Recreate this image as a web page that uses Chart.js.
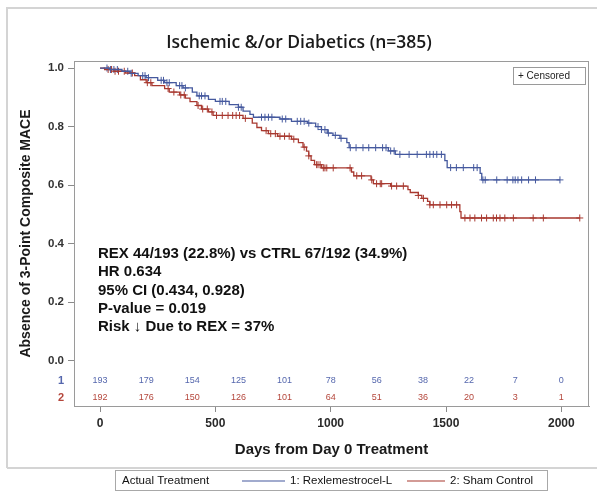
<!DOCTYPE html>
<html>
<head>
<meta charset="utf-8">
<script src="https://cdn.jsdelivr.net/npm/chart.js@4.4.1/dist/chart.umd.min.js"></script>
<style>
  html, body { margin: 0; padding: 0; background: #fff; }
  #wrap { width: 597px; height: 499px; position: relative; }
</style>
</head>
<body>
<div id="wrap"><canvas id="km"></canvas></div>
<script>
// ---- Data -------------------------------------------------------------
const chartTitle = 'Ischemic &/or Diabetics (n=385)';
const yAxisTitle = 'Absence of 3-Point Composite MACE';
const xAxisTitle = 'Days from Day 0 Treatment';
const legendTitle = 'Actual Treatment';
const groupNames = ['1: Rexlemestrocel-L', '2: Sham Control'];

// Kaplan-Meier steps: day of event and survival estimate after it
const rexDays = [0, 40, 95, 130, 165, 200, 250, 280, 330, 360, 400, 420, 470, 500, 560, 600, 620, 650, 665, 780, 830, 900, 935, 960, 985, 1010, 1040, 1070, 1080, 1250, 1280, 1495, 1505, 1648, 1655, 1994];
const rexSurv = [1.0, 0.995, 0.989, 0.982, 0.974, 0.967, 0.958, 0.950, 0.940, 0.932, 0.918, 0.905, 0.893, 0.886, 0.875, 0.866, 0.853, 0.842, 0.832, 0.826, 0.818, 0.812, 0.800, 0.790, 0.778, 0.770, 0.760, 0.745, 0.728, 0.717, 0.705, 0.684, 0.660, 0.640, 0.618, 0.618];
const rexCensorDays = [30, 45, 60, 75, 120, 135, 185, 195, 210, 265, 275, 290, 300, 345, 355, 370, 430, 440, 455, 520, 530, 545, 600, 612, 700, 715, 730, 745, 790, 805, 855, 870, 885, 905, 945, 960, 975, 990, 1020, 1045, 1085, 1110, 1140, 1165, 1195, 1225, 1240, 1260, 1275, 1300, 1340, 1375, 1415, 1430, 1445, 1460, 1480, 1520, 1545, 1575, 1620, 1635, 1660, 1670, 1720, 1765, 1790, 1800, 1812, 1828, 1858, 1888, 1994];

const shamDays = [0, 20, 60, 110, 150, 175, 200, 225, 280, 300, 345, 370, 390, 420, 440, 470, 490, 620, 660, 680, 700, 730, 770, 830, 860, 880, 895, 905, 915, 930, 960, 1090, 1100, 1175, 1185, 1260, 1335, 1345, 1380, 1395, 1420, 1430, 1560, 1565, 2080];
const shamSurv = [1.0, 0.995, 0.989, 0.983, 0.974, 0.960, 0.950, 0.940, 0.930, 0.918, 0.908, 0.897, 0.885, 0.872, 0.860, 0.850, 0.838, 0.828, 0.812, 0.797, 0.786, 0.776, 0.767, 0.757, 0.745, 0.730, 0.716, 0.700, 0.685, 0.670, 0.659, 0.645, 0.632, 0.618, 0.605, 0.597, 0.585, 0.575, 0.565, 0.555, 0.545, 0.533, 0.510, 0.488, 0.488];
const shamCensorDays = [35, 50, 65, 80, 105, 140, 205, 220, 295, 320, 350, 365, 425, 445, 465, 485, 505, 530, 555, 575, 590, 605, 630, 720, 740, 760, 780, 800, 820, 840, 885, 905, 939, 945, 954, 968, 975, 983, 1011, 1084, 1113, 1134, 1178, 1199, 1215, 1221, 1264, 1286, 1315, 1380, 1402, 1430, 1445, 1474, 1503, 1524, 1546, 1582, 1604, 1625, 1654, 1676, 1705, 1719, 1734, 1755, 1792, 1878, 1922, 2080];

// Number at risk
const riskDays = [0, 200, 400, 600, 800, 1000, 1200, 1400, 1600, 1800, 2000];
const rexAtRisk = [193, 179, 154, 125, 101, 78, 56, 38, 22, 7, 0];
const shamAtRisk = [192, 176, 150, 126, 101, 64, 51, 36, 20, 3, 1];

const xTicks = [0, 500, 1000, 1500, 2000];
const yTicks = [0, 0.2, 0.4, 0.6, 0.8, 1.0];

const statLines = [
  'REX 44/193 (22.8%) vs CTRL 67/192 (34.9%)',
  'HR 0.634',
  '95% CI (0.434, 0.928)',
  'P-value = 0.019',
  'Risk \u2193 Due to REX = 37%'
];

// ---- Styling ----------------------------------------------------------
const BLUE = '#45599e';
const RED = '#a8382f';
const BLUE_TXT = '#5567ad';
const RED_TXT = '#b4463b';
const SANS = '"Liberation Sans", Arial, sans-serif';

// survival level in force at a given day (for censor marks)
function survAt(days, surv, t) {
  let s = surv[0];
  for (let i = 0; i < days.length; i++) {
    if (days[i] <= t) s = surv[i]; else break;
  }
  return s;
}
const stepPoints = (days, surv) => days.map((d, i) => ({ x: d, y: surv[i] }));
const censorPoints = (cd, days, surv) => cd.map(t => ({ x: t, y: survAt(days, surv, t) }));

// ---- Decorations drawn around the plot ---------------------------------
const decor = {
  id: 'decor',
  beforeDraw(chart) {
    const ctx = chart.ctx;
    ctx.save();
    ctx.fillStyle = '#fff';
    ctx.fillRect(0, 0, chart.width, chart.height);
    // outer panel frame
    ctx.strokeStyle = '#d4d4d4';
    ctx.lineWidth = 2;
    ctx.beginPath();
    ctx.moveTo(7, 468); ctx.lineTo(7, 8); ctx.lineTo(597, 8);
    ctx.moveTo(7, 468); ctx.lineTo(597, 468);
    ctx.stroke();
    ctx.restore();
  },
  afterDraw(chart) {
    const { ctx, chartArea: a, scales: { x } } = chart;
    ctx.save();
    // plot box
    ctx.strokeStyle = '#9a9a9a';
    ctx.lineWidth = 1;
    ctx.strokeRect(a.left + 0.5, a.top + 0.5, a.right - a.left - 1, a.bottom - a.top);

    // title
    ctx.fillStyle = '#1a1a1a';
    ctx.font = '600 17.5px "Open Sans", sans-serif';
    ctx.textAlign = 'center';
    ctx.textBaseline = 'middle';
    ctx.fillText(chartTitle, 299, 43);

    // statistics block
    ctx.font = 'bold 15px ' + SANS;
    ctx.textAlign = 'left';
    ctx.fillStyle = '#111';
    statLines.forEach((s, i) => ctx.fillText(s, a.left + 24, 254 + i * 18.3));

    // numbers at risk
    ctx.font = '9px ' + SANS;
    ctx.textAlign = 'center';
    riskDays.forEach((d, i) => {
      const px = x.getPixelForValue(d);
      ctx.fillStyle = BLUE_TXT;
      ctx.fillText(String(rexAtRisk[i]), px, a.bottom - 25);
      ctx.fillStyle = RED_TXT;
      ctx.fillText(String(shamAtRisk[i]), px, a.bottom - 8);
    });
    ctx.font = 'bold 11px ' + SANS;
    ctx.fillStyle = BLUE_TXT;
    ctx.fillText('1', 61, a.bottom - 25);
    ctx.fillStyle = RED_TXT;
    ctx.fillText('2', 61, a.bottom - 8);

    // censored key
    ctx.strokeStyle = '#9a9a9a';
    ctx.strokeRect(513.5, 67.5, 72, 17);
    ctx.fillStyle = '#222';
    ctx.font = '10px ' + SANS;
    ctx.textAlign = 'left';
    ctx.fillText('+ Censored', 518, 76.5);

    // treatment legend
    ctx.strokeStyle = '#a8a8a8';
    ctx.strokeRect(115.5, 470.5, 432, 20);
    ctx.font = '11.5px ' + SANS;
    ctx.fillStyle = '#111';
    ctx.fillText(legendTitle, 122, 481);
    ctx.lineWidth = 1.2;
    ctx.strokeStyle = BLUE;
    ctx.beginPath(); ctx.moveTo(242, 481); ctx.lineTo(285, 481); ctx.stroke();
    ctx.fillText(groupNames[0], 290, 481);
    ctx.strokeStyle = RED;
    ctx.beginPath(); ctx.moveTo(407, 481); ctx.lineTo(445, 481); ctx.stroke();
    ctx.fillText(groupNames[1], 450, 481);
    ctx.restore();
  }
};

new Chart(document.getElementById('km'), {
  type: 'line',
  data: {
    datasets: [
      { label: groupNames[0], data: stepPoints(rexDays, rexSurv), stepped: true,
        borderColor: BLUE, borderWidth: 1.3, pointRadius: 0, fill: false },
      { label: groupNames[1], data: stepPoints(shamDays, shamSurv), stepped: true,
        borderColor: RED, borderWidth: 1.3, pointRadius: 0, fill: false },
      { label: 'rex censored', data: censorPoints(rexCensorDays, rexDays, rexSurv), showLine: false,
        pointStyle: 'cross', pointRadius: 3.5, borderColor: BLUE, borderWidth: 1, pointHoverRadius: 3.5 },
      { label: 'sham censored', data: censorPoints(shamCensorDays, shamDays, shamSurv), showLine: false,
        pointStyle: 'cross', pointRadius: 3.5, borderColor: RED, borderWidth: 1, pointHoverRadius: 3.5 }
    ]
  },
  options: {
    responsive: true,
    maintainAspectRatio: false,
    animation: false,
    events: [],
    layout: { padding: { left: 0, right: 8, top: 61, bottom: 31 } },
    plugins: { legend: { display: false }, title: { display: false }, tooltip: { enabled: false } },
    scales: {
      x: {
        type: 'linear', min: -113, max: 2120,
        afterBuildTicks: s => { s.ticks = xTicks.map(v => ({ value: v })); },
        afterFit: s => { s.height = 62; },
        grid: { drawOnChartArea: false, drawTicks: true, tickLength: 6, color: '#8a8a8a' },
        border: { display: true, color: '#9a9a9a' },
        ticks: { font: { family: SANS, size: 12, weight: 'bold' }, color: '#2a2a2a', padding: 4,
                 maxRotation: 0, callback: v => String(v) },
        title: { display: true, text: xAxisTitle, color: '#1a1a1a',
                 font: { family: SANS, size: 15, weight: 'bold' }, padding: { top: 0, bottom: 9 } }
      },
      y: {
        type: 'linear', min: -0.154, max: 1.024,
        afterBuildTicks: s => { s.ticks = yTicks.map(v => ({ value: v })); },
        afterFit: s => { s.width = 74; },
        grid: { drawOnChartArea: false, drawTicks: true, tickLength: 6, color: '#8a8a8a' },
        border: { display: true, color: '#9a9a9a' },
        ticks: { font: { family: SANS, size: 11.5, weight: 'bold' }, color: '#333', padding: 4,
                 callback: v => Number(v).toFixed(1) },
        title: { display: true, text: yAxisTitle, color: '#1a1a1a',
                 font: { family: SANS, size: 14, weight: 'bold' }, padding: { top: 18, bottom: 0 } }
      }
    }
  },
  plugins: [decor]
});
</script>
</body>
</html>
